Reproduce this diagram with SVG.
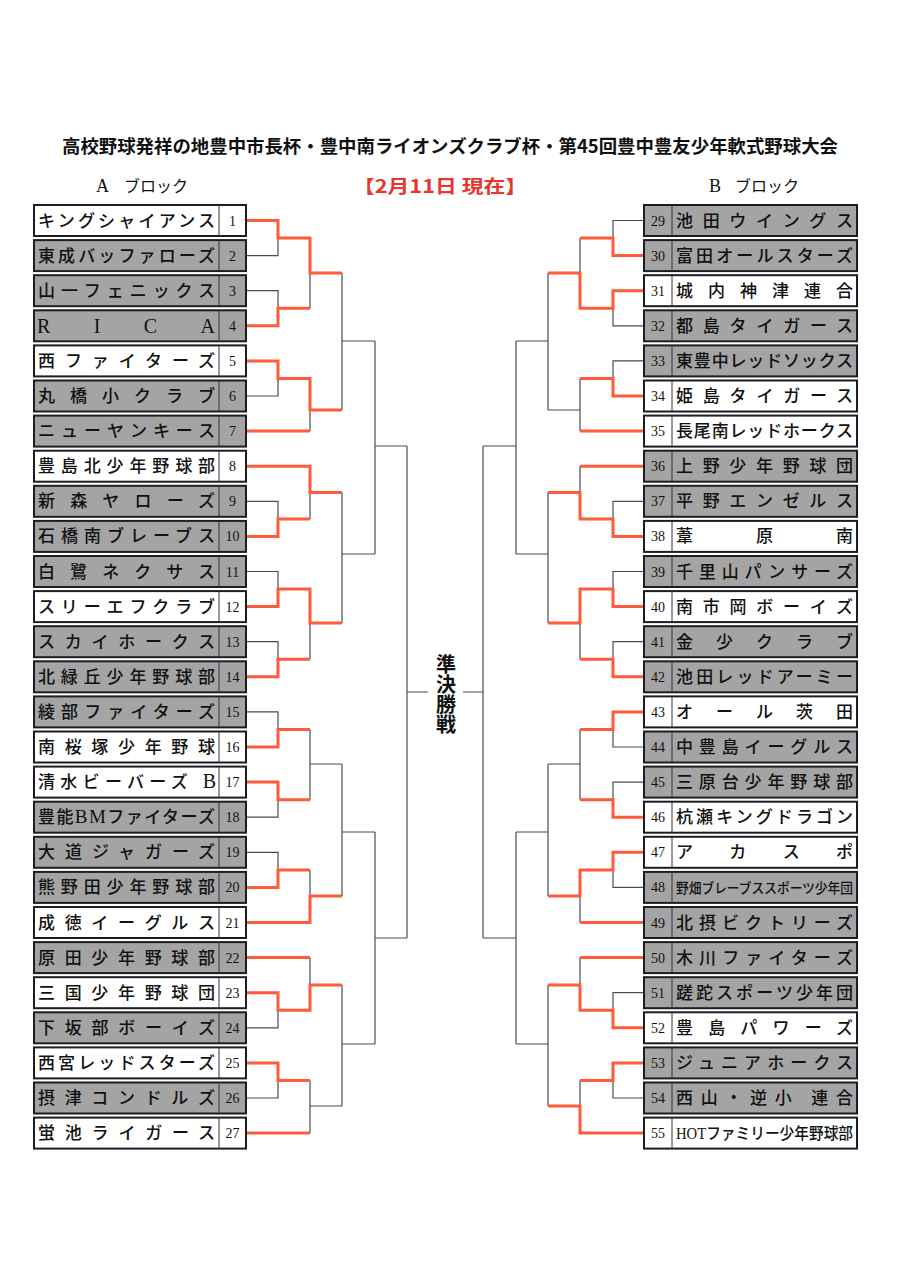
<svg xmlns="http://www.w3.org/2000/svg" width="903" height="1280" viewBox="0 0 903 1280">
<style>
.bx{stroke:#1c1c24;stroke-width:2}
.g{fill:#a4a4a4}
.w{fill:#ffffff}
.dv{stroke:#33333a;stroke-width:1}
.nm{font-family:"Liberation Serif","Noto Sans CJK JP",serif;font-size:17px;fill:#111;font-weight:500}
.no{font-family:"Liberation Serif","Noto Sans CJK JP",serif;font-size:14px;fill:#111;text-anchor:middle}
.gr{fill:none;stroke:#4a4a58;stroke-width:1.2}
.rd{fill:none;stroke:#ff5a3a;stroke-width:3;stroke-linejoin:miter}
.hd{font-family:"Liberation Serif","Noto Sans CJK JP",serif;font-size:16px;fill:#111}
</style>
<rect width="903" height="1280" fill="#ffffff"/>
<g id="header">
<text x="62" y="153" font-family="'Noto Sans CJK JP',sans-serif" font-size="18" font-weight="bold" fill="#111" textLength="776" lengthAdjust="spacingAndGlyphs">高校野球発祥の地豊中市長杯・豊中南ライオンズクラブ杯・第45回豊中豊友少年軟式野球大会</text>
<text class="hd" y="192"><tspan x="96" style="font-size:18px">A</tspan><tspan x="124">ブロック</tspan></text>
<text class="hd" y="192"><tspan x="709" style="font-size:18px">B</tspan><tspan x="735">ブロック</tspan></text>
<text x="353" y="193" font-family="'Noto Sans CJK JP',sans-serif" font-size="18" font-weight="bold" fill="#e8362c" textLength="174" lengthAdjust="spacingAndGlyphs">【2月11日 現在】</text>
</g>
<g id="connectors">
<path class="gr" d="M246,220.5H278V255.6H246M278,238H310M246,290.7H278V325.8H246M278,308.3H310M310,238V308.3M310,273H342M246,360.9H278V396H246M278,378.5H310M246,431.1H310M310,378.5V431.1M310,410H342M342,273V410M342,341H375M246,466.2H310M246,501.3H278V536.4H246M278,518.9H310M310,466.2V518.9M310,492.5H342M246,571.5H278V606.6H246M278,589H310M246,641.7H278V676.8H246M278,659.3H310M310,589V659.3M310,623H342M342,492.5V623M342,554H375M375,341V554M375,446H407M246,711.9H278V747H246M278,729.5H310M246,782.1H278V817.2H246M278,799.7H310M310,729.5V799.7M310,764H342M246,852.3H278V887.4H246M278,869.9H310M246,922.5H310M310,869.9V922.5M310,896H342M342,764V896M342,832H375M246,957.6H310M246,992.7H278V1027.8H246M278,1010.3H310M310,957.6V1010.3M310,985H342M246,1062.9H278V1098H246M278,1080.5H310M246,1133.1H310M310,1080.5V1133.1M310,1106H342M342,985V1106M342,1044H375M375,832V1044M375,938H407M407,446V938M407,692H428"/>
<path class="gr" d="M644,220.5H613V255.6H644M613,238H580M644,290.7H613V325.8H644M613,308.3H580M580,238V308.3M580,273H548M644,360.9H613V396H644M613,378.5H580M644,431.1H580M580,378.5V431.1M580,410H548M548,273V410M548,341H516M644,466.2H580M644,501.3H613V536.4H644M613,518.9H580M580,466.2V518.9M580,492.5H548M644,571.5H613V606.6H644M613,589H580M644,641.7H613V676.8H644M613,659.3H580M580,589V659.3M580,623H548M548,492.5V623M548,554H516M516,341V554M516,446H483M644,711.9H613V747H644M613,729.5H580M644,782.1H613V817.2H644M613,799.7H580M580,729.5V799.7M580,764H548M644,852.3H613V887.4H644M613,869.9H580M644,922.5H580M580,869.9V922.5M580,896H548M548,764V896M548,832H516M644,957.6H580M644,992.7H613V1027.8H644M613,1010.3H580M580,957.6V1010.3M580,985H548M644,1062.9H613V1098H644M613,1080.5H580M644,1133.1H580M580,1080.5V1133.1M580,1106H548M548,985V1106M548,1044H516M516,832V1044M516,938H483M483,446V938M483,692H463"/>
<path class="rd" d="M246,220.5H278V238H310V273H342M246,325.8H278V308.3H310M246,360.9H278V378.5H310V410H342M246,431.1H310M246,466.2H310V492.5H342M246,536.4H278V518.9H310M246,606.6H278V589H310V623H342M246,676.8H278V659.3H310M246,747H278V729.5H310M246,782.1H278V799.7H310M246,887.4H278V869.9H310M246,922.5H310V896H342M246,957.6H310M246,992.7H278V1010.3H310V985H342M246,1062.9H278V1080.5H310M246,1133.1H310"/>
<path class="rd" d="M644,255.6H613V238H580M644,290.7H613V308.3H580V273H548M644,396H613V378.5H580M644,431.1H580M644,466.2H580M644,536.4H613V518.9H580V492.5H548M644,606.6H613V589H580V623H548M644,676.8H613V659.3H580M644,711.9H613V729.5H580M644,817.2H613V799.7H580M644,852.3H613V869.9H580V896H548M644,922.5H580M644,957.6H580M644,1027.8H613V1010.3H580V985H548M644,1062.9H613V1080.5H580M644,1133.1H580V1106H548"/>
</g>
<g id="final">
<text x="446" y="654" writing-mode="vertical-rl" font-family="'Noto Sans CJK JP',sans-serif" font-size="20" font-weight="bold" fill="#111">準決勝戦</text>
</g>
<g id="team-1"><rect class="bx w" x="34" y="205" width="212" height="31"/><line class="dv" x1="219" y1="205" x2="219" y2="236"/><text class="nm" x="38" y="226.5" textLength="177" lengthAdjust="spacing">キングシャイアンス</text><text class="no" x="232.5" y="225.5">1</text></g>
<g id="team-2"><rect class="bx g" x="34" y="240.1" width="212" height="31"/><line class="dv" x1="219" y1="240.1" x2="219" y2="271.1"/><text class="nm" x="38" y="261.6" textLength="177" lengthAdjust="spacing">東成バッファローズ</text><text class="no" x="232.5" y="260.6">2</text></g>
<g id="team-3"><rect class="bx g" x="34" y="275.2" width="212" height="31"/><line class="dv" x1="219" y1="275.2" x2="219" y2="306.2"/><text class="nm" x="38" y="296.7" textLength="177" lengthAdjust="spacing">山一フェニックス</text><text class="no" x="232.5" y="295.7">3</text></g>
<g id="team-4"><rect class="bx g" x="34" y="310.3" width="212" height="31"/><line class="dv" x1="219" y1="310.3" x2="219" y2="341.3"/><text class="nm" x="37" y="332.5" style="font-size:20px" textLength="178" lengthAdjust="spacing">RICA</text><text class="no" x="232.5" y="330.8">4</text></g>
<g id="team-5"><rect class="bx w" x="34" y="345.4" width="212" height="31"/><line class="dv" x1="219" y1="345.4" x2="219" y2="376.4"/><text class="nm" x="38" y="366.9" textLength="177" lengthAdjust="spacing">西ファイターズ</text><text class="no" x="232.5" y="365.9">5</text></g>
<g id="team-6"><rect class="bx g" x="34" y="380.5" width="212" height="31"/><line class="dv" x1="219" y1="380.5" x2="219" y2="411.5"/><text class="nm" x="38" y="402" textLength="177" lengthAdjust="spacing">丸橋小クラブ</text><text class="no" x="232.5" y="401">6</text></g>
<g id="team-7"><rect class="bx g" x="34" y="415.6" width="212" height="31"/><line class="dv" x1="219" y1="415.6" x2="219" y2="446.6"/><text class="nm" x="38" y="437.1" textLength="177" lengthAdjust="spacing">ニューヤンキース</text><text class="no" x="232.5" y="436.1">7</text></g>
<g id="team-8"><rect class="bx w" x="34" y="450.7" width="212" height="31"/><line class="dv" x1="219" y1="450.7" x2="219" y2="481.7"/><text class="nm" x="38" y="472.2" textLength="177" lengthAdjust="spacing">豊島北少年野球部</text><text class="no" x="232.5" y="471.2">8</text></g>
<g id="team-9"><rect class="bx g" x="34" y="485.8" width="212" height="31"/><line class="dv" x1="219" y1="485.8" x2="219" y2="516.8"/><text class="nm" x="38" y="507.3" textLength="177" lengthAdjust="spacing">新森ヤローズ</text><text class="no" x="232.5" y="506.3">9</text></g>
<g id="team-10"><rect class="bx g" x="34" y="520.9" width="212" height="31"/><line class="dv" x1="219" y1="520.9" x2="219" y2="551.9"/><text class="nm" x="38" y="542.4" textLength="177" lengthAdjust="spacing">石橋南ブレーブス</text><text class="no" x="232.5" y="541.4">10</text></g>
<g id="team-11"><rect class="bx g" x="34" y="556" width="212" height="31"/><line class="dv" x1="219" y1="556" x2="219" y2="587"/><text class="nm" x="38" y="577.5" textLength="177" lengthAdjust="spacing">白鷺ネクサス</text><text class="no" x="232.5" y="576.5">11</text></g>
<g id="team-12"><rect class="bx w" x="34" y="591.1" width="212" height="31"/><line class="dv" x1="219" y1="591.1" x2="219" y2="622.1"/><text class="nm" x="38" y="612.6" textLength="177" lengthAdjust="spacing">スリーエフクラブ</text><text class="no" x="232.5" y="611.6">12</text></g>
<g id="team-13"><rect class="bx g" x="34" y="626.2" width="212" height="31"/><line class="dv" x1="219" y1="626.2" x2="219" y2="657.2"/><text class="nm" x="38" y="647.7" textLength="177" lengthAdjust="spacing">スカイホークス</text><text class="no" x="232.5" y="646.7">13</text></g>
<g id="team-14"><rect class="bx g" x="34" y="661.3" width="212" height="31"/><line class="dv" x1="219" y1="661.3" x2="219" y2="692.3"/><text class="nm" x="38" y="682.8" textLength="177" lengthAdjust="spacing">北緑丘少年野球部</text><text class="no" x="232.5" y="681.8">14</text></g>
<g id="team-15"><rect class="bx g" x="34" y="696.4" width="212" height="31"/><line class="dv" x1="219" y1="696.4" x2="219" y2="727.4"/><text class="nm" x="38" y="717.9" textLength="177" lengthAdjust="spacing">綾部ファイターズ</text><text class="no" x="232.5" y="716.9">15</text></g>
<g id="team-16"><rect class="bx w" x="34" y="731.5" width="212" height="31"/><line class="dv" x1="219" y1="731.5" x2="219" y2="762.5"/><text class="nm" x="38" y="753" textLength="177" lengthAdjust="spacing">南桜塚少年野球</text><text class="no" x="232.5" y="752">16</text></g>
<g id="team-17"><rect class="bx w" x="34" y="766.6" width="212" height="31"/><line class="dv" x1="219" y1="766.6" x2="219" y2="797.6"/><text class="nm" x="38" y="788.1" textLength="178" lengthAdjust="spacing">清水ビーバーズ <tspan style="font-size:20px">B</tspan></text><text class="no" x="232.5" y="787.1">17</text></g>
<g id="team-18"><rect class="bx g" x="34" y="801.7" width="212" height="31"/><line class="dv" x1="219" y1="801.7" x2="219" y2="832.7"/><text class="nm" x="38" y="823.2" textLength="177" lengthAdjust="spacing">豊能<tspan style="font-size:19px">BM</tspan>ファイターズ</text><text class="no" x="232.5" y="822.2">18</text></g>
<g id="team-19"><rect class="bx g" x="34" y="836.8" width="212" height="31"/><line class="dv" x1="219" y1="836.8" x2="219" y2="867.8"/><text class="nm" x="38" y="858.3" textLength="177" lengthAdjust="spacing">大道ジャガーズ</text><text class="no" x="232.5" y="857.3">19</text></g>
<g id="team-20"><rect class="bx g" x="34" y="871.9" width="212" height="31"/><line class="dv" x1="219" y1="871.9" x2="219" y2="902.9"/><text class="nm" x="38" y="893.4" textLength="177" lengthAdjust="spacing">熊野田少年野球部</text><text class="no" x="232.5" y="892.4">20</text></g>
<g id="team-21"><rect class="bx w" x="34" y="907" width="212" height="31"/><line class="dv" x1="219" y1="907" x2="219" y2="938"/><text class="nm" x="38" y="928.5" textLength="177" lengthAdjust="spacing">成徳イーグルス</text><text class="no" x="232.5" y="927.5">21</text></g>
<g id="team-22"><rect class="bx g" x="34" y="942.1" width="212" height="31"/><line class="dv" x1="219" y1="942.1" x2="219" y2="973.1"/><text class="nm" x="38" y="963.6" textLength="177" lengthAdjust="spacing">原田少年野球部</text><text class="no" x="232.5" y="962.6">22</text></g>
<g id="team-23"><rect class="bx w" x="34" y="977.2" width="212" height="31"/><line class="dv" x1="219" y1="977.2" x2="219" y2="1008.2"/><text class="nm" x="38" y="998.7" textLength="177" lengthAdjust="spacing">三国少年野球団</text><text class="no" x="232.5" y="997.7">23</text></g>
<g id="team-24"><rect class="bx g" x="34" y="1012.3" width="212" height="31"/><line class="dv" x1="219" y1="1012.3" x2="219" y2="1043.3"/><text class="nm" x="38" y="1033.8" textLength="177" lengthAdjust="spacing">下坂部ボーイズ</text><text class="no" x="232.5" y="1032.8">24</text></g>
<g id="team-25"><rect class="bx w" x="34" y="1047.4" width="212" height="31"/><line class="dv" x1="219" y1="1047.4" x2="219" y2="1078.4"/><text class="nm" x="38" y="1068.9" textLength="177" lengthAdjust="spacing">西宮レッドスターズ</text><text class="no" x="232.5" y="1067.9">25</text></g>
<g id="team-26"><rect class="bx g" x="34" y="1082.5" width="212" height="31"/><line class="dv" x1="219" y1="1082.5" x2="219" y2="1113.5"/><text class="nm" x="38" y="1104" textLength="177" lengthAdjust="spacing">摂津コンドルズ</text><text class="no" x="232.5" y="1103">26</text></g>
<g id="team-27"><rect class="bx w" x="34" y="1117.6" width="212" height="31"/><line class="dv" x1="219" y1="1117.6" x2="219" y2="1148.6"/><text class="nm" x="38" y="1139.1" textLength="177" lengthAdjust="spacing">蛍池ライガース</text><text class="no" x="232.5" y="1138.1">27</text></g>
<g id="team-29"><rect class="bx g" x="644" y="205" width="213" height="31"/><line class="dv" x1="672" y1="205" x2="672" y2="236"/><text class="no" x="658" y="225.5">29</text><text class="nm" x="676" y="226.5" textLength="177" lengthAdjust="spacing">池田ウイングス</text></g>
<g id="team-30"><rect class="bx g" x="644" y="240.1" width="213" height="31"/><line class="dv" x1="672" y1="240.1" x2="672" y2="271.1"/><text class="no" x="658" y="260.6">30</text><text class="nm" x="676" y="261.6" textLength="177" lengthAdjust="spacing">富田オールスターズ</text></g>
<g id="team-31"><rect class="bx w" x="644" y="275.2" width="213" height="31"/><line class="dv" x1="672" y1="275.2" x2="672" y2="306.2"/><text class="no" x="658" y="295.7">31</text><text class="nm" x="676" y="296.7" textLength="177" lengthAdjust="spacing">城内神津連合</text></g>
<g id="team-32"><rect class="bx g" x="644" y="310.3" width="213" height="31"/><line class="dv" x1="672" y1="310.3" x2="672" y2="341.3"/><text class="no" x="658" y="330.8">32</text><text class="nm" x="676" y="331.8" textLength="177" lengthAdjust="spacing">都島タイガース</text></g>
<g id="team-33"><rect class="bx g" x="644" y="345.4" width="213" height="31"/><line class="dv" x1="672" y1="345.4" x2="672" y2="376.4"/><text class="no" x="658" y="365.9">33</text><text class="nm" x="676" y="366.9" textLength="177" lengthAdjust="spacing">東豊中レッドソックス</text></g>
<g id="team-34"><rect class="bx w" x="644" y="380.5" width="213" height="31"/><line class="dv" x1="672" y1="380.5" x2="672" y2="411.5"/><text class="no" x="658" y="401">34</text><text class="nm" x="676" y="402" textLength="177" lengthAdjust="spacing">姫島タイガース</text></g>
<g id="team-35"><rect class="bx w" x="644" y="415.6" width="213" height="31"/><line class="dv" x1="672" y1="415.6" x2="672" y2="446.6"/><text class="no" x="658" y="436.1">35</text><text class="nm" x="676" y="437.1" textLength="177" lengthAdjust="spacing">長尾南レッドホークス</text></g>
<g id="team-36"><rect class="bx g" x="644" y="450.7" width="213" height="31"/><line class="dv" x1="672" y1="450.7" x2="672" y2="481.7"/><text class="no" x="658" y="471.2">36</text><text class="nm" x="676" y="472.2" textLength="177" lengthAdjust="spacing">上野少年野球団</text></g>
<g id="team-37"><rect class="bx g" x="644" y="485.8" width="213" height="31"/><line class="dv" x1="672" y1="485.8" x2="672" y2="516.8"/><text class="no" x="658" y="506.3">37</text><text class="nm" x="676" y="507.3" textLength="177" lengthAdjust="spacing">平野エンゼルス</text></g>
<g id="team-38"><rect class="bx w" x="644" y="520.9" width="213" height="31"/><line class="dv" x1="672" y1="520.9" x2="672" y2="551.9"/><text class="no" x="658" y="541.4">38</text><text class="nm" x="676" y="542.4" textLength="177" lengthAdjust="spacing">葦原南</text></g>
<g id="team-39"><rect class="bx g" x="644" y="556" width="213" height="31"/><line class="dv" x1="672" y1="556" x2="672" y2="587"/><text class="no" x="658" y="576.5">39</text><text class="nm" x="676" y="577.5" textLength="177" lengthAdjust="spacing">千里山パンサーズ</text></g>
<g id="team-40"><rect class="bx w" x="644" y="591.1" width="213" height="31"/><line class="dv" x1="672" y1="591.1" x2="672" y2="622.1"/><text class="no" x="658" y="611.6">40</text><text class="nm" x="676" y="612.6" textLength="177" lengthAdjust="spacing">南市岡ボーイズ</text></g>
<g id="team-41"><rect class="bx g" x="644" y="626.2" width="213" height="31"/><line class="dv" x1="672" y1="626.2" x2="672" y2="657.2"/><text class="no" x="658" y="646.7">41</text><text class="nm" x="676" y="647.7" textLength="177" lengthAdjust="spacing">金少クラブ</text></g>
<g id="team-42"><rect class="bx g" x="644" y="661.3" width="213" height="31"/><line class="dv" x1="672" y1="661.3" x2="672" y2="692.3"/><text class="no" x="658" y="681.8">42</text><text class="nm" x="676" y="682.8" textLength="177" lengthAdjust="spacing">池田レッドアーミー</text></g>
<g id="team-43"><rect class="bx w" x="644" y="696.4" width="213" height="31"/><line class="dv" x1="672" y1="696.4" x2="672" y2="727.4"/><text class="no" x="658" y="716.9">43</text><text class="nm" x="676" y="717.9" textLength="177" lengthAdjust="spacing">オール茨田</text></g>
<g id="team-44"><rect class="bx g" x="644" y="731.5" width="213" height="31"/><line class="dv" x1="672" y1="731.5" x2="672" y2="762.5"/><text class="no" x="658" y="752">44</text><text class="nm" x="676" y="753" textLength="177" lengthAdjust="spacing">中豊島イーグルス</text></g>
<g id="team-45"><rect class="bx g" x="644" y="766.6" width="213" height="31"/><line class="dv" x1="672" y1="766.6" x2="672" y2="797.6"/><text class="no" x="658" y="787.1">45</text><text class="nm" x="676" y="788.1" textLength="177" lengthAdjust="spacing">三原台少年野球部</text></g>
<g id="team-46"><rect class="bx w" x="644" y="801.7" width="213" height="31"/><line class="dv" x1="672" y1="801.7" x2="672" y2="832.7"/><text class="no" x="658" y="822.2">46</text><text class="nm" x="676" y="823.2" textLength="177" lengthAdjust="spacing">杭瀬キングドラゴン</text></g>
<g id="team-47"><rect class="bx w" x="644" y="836.8" width="213" height="31"/><line class="dv" x1="672" y1="836.8" x2="672" y2="867.8"/><text class="no" x="658" y="857.3">47</text><text class="nm" x="676" y="858.3" textLength="177" lengthAdjust="spacing">アカスポ</text></g>
<g id="team-48"><rect class="bx g" x="644" y="871.9" width="213" height="31"/><line class="dv" x1="672" y1="871.9" x2="672" y2="902.9"/><text class="no" x="658" y="892.4">48</text><text class="nm" x="676" y="892.6" style="font-size:13.5px" textLength="177" lengthAdjust="spacingAndGlyphs">野畑ブレーブススポーツ少年団</text></g>
<g id="team-49"><rect class="bx g" x="644" y="907" width="213" height="31"/><line class="dv" x1="672" y1="907" x2="672" y2="938"/><text class="no" x="658" y="927.5">49</text><text class="nm" x="676" y="928.5" textLength="177" lengthAdjust="spacing">北摂ビクトリーズ</text></g>
<g id="team-50"><rect class="bx g" x="644" y="942.1" width="213" height="31"/><line class="dv" x1="672" y1="942.1" x2="672" y2="973.1"/><text class="no" x="658" y="962.6">50</text><text class="nm" x="676" y="963.6" textLength="177" lengthAdjust="spacing">木川ファイターズ</text></g>
<g id="team-51"><rect class="bx g" x="644" y="977.2" width="213" height="31"/><line class="dv" x1="672" y1="977.2" x2="672" y2="1008.2"/><text class="no" x="658" y="997.7">51</text><text class="nm" x="676" y="998.7" textLength="177" lengthAdjust="spacing">蹉跎スポーツ少年団</text></g>
<g id="team-52"><rect class="bx w" x="644" y="1012.3" width="213" height="31"/><line class="dv" x1="672" y1="1012.3" x2="672" y2="1043.3"/><text class="no" x="658" y="1032.8">52</text><text class="nm" x="676" y="1033.8" textLength="177" lengthAdjust="spacing">豊島パワーズ</text></g>
<g id="team-53"><rect class="bx g" x="644" y="1047.4" width="213" height="31"/><line class="dv" x1="672" y1="1047.4" x2="672" y2="1078.4"/><text class="no" x="658" y="1067.9">53</text><text class="nm" x="676" y="1068.9" textLength="177" lengthAdjust="spacing">ジュニアホークス</text></g>
<g id="team-54"><rect class="bx g" x="644" y="1082.5" width="213" height="31"/><line class="dv" x1="672" y1="1082.5" x2="672" y2="1113.5"/><text class="no" x="658" y="1103">54</text><text class="nm" x="676" y="1104" textLength="177" lengthAdjust="spacing">西山・逆小 連合</text></g>
<g id="team-55"><rect class="bx w" x="644" y="1117.6" width="213" height="31"/><line class="dv" x1="672" y1="1117.6" x2="672" y2="1148.6"/><text class="no" x="658" y="1138.1">55</text><text class="nm" x="676" y="1139.1" style="font-size:16px" textLength="177" lengthAdjust="spacingAndGlyphs">HOTファミリー少年野球部</text></g>
</svg>
